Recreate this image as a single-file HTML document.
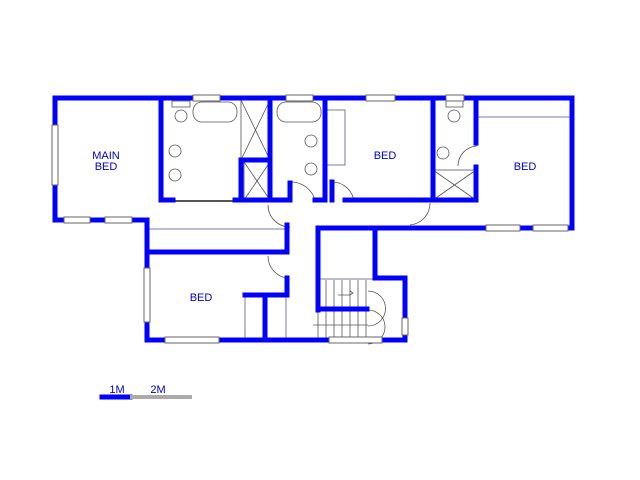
<!DOCTYPE html>
<html><head><meta charset="utf-8"><style>html,body{margin:0;padding:0;background:#fff}svg{display:block}</style></head>
<body>
<svg width="640" height="480" viewBox="0 0 640 480" xmlns="http://www.w3.org/2000/svg" font-family="Liberation Sans, sans-serif">
<g stroke="#7777aa" stroke-width="1" fill="none">
<line x1="147" y1="229" x2="287" y2="229"/>
<line x1="245" y1="295" x2="245" y2="340"/>
<line x1="286" y1="295" x2="286" y2="340"/>
<line x1="318" y1="279" x2="375" y2="279"/>
<line x1="477" y1="117" x2="572" y2="117"/>
<polyline points="327,110 345,110 345,165 327,165"/>
<line x1="173" y1="201" x2="235" y2="201" stroke="#555" stroke-width="2"/>
</g>
<g stroke="#555" stroke-width="0.8" fill="none">
<path d="M326,310 h42 a17,17 0 0 1 0,34"/>
<path d="M368,291 a17,17 0 0 1 0,35"/>
<line x1="318" y1="280" x2="318" y2="340"/><line x1="326" y1="280" x2="326" y2="340"/><line x1="334" y1="280" x2="334" y2="340"/><line x1="342" y1="280" x2="342" y2="340"/><line x1="350" y1="280" x2="350" y2="340"/><line x1="358" y1="280" x2="358" y2="340"/><line x1="366" y1="280" x2="366" y2="340"/>
<line x1="313" y1="325" x2="368" y2="325"/>
<path d="M338,295 h12 l3,-2 l-3,-2"/>
<rect x="241" y="100" width="29" height="60"/><line x1="241" y1="100" x2="270" y2="160"/><line x1="270" y1="100" x2="241" y2="160"/>
<rect x="244" y="162" width="26" height="38"/><line x1="244" y1="162" x2="270" y2="200"/><line x1="270" y1="162" x2="244" y2="200"/>
<rect x="433" y="170" width="43" height="30"/><line x1="433" y1="170" x2="476" y2="200"/><line x1="476" y1="170" x2="433" y2="200"/>
<rect x="193" y="102" width="44" height="20" rx="9"/><rect x="277" y="102" width="44" height="20" rx="9"/>
<circle cx="181" cy="116" r="6"/><rect x="172" y="101" width="18" height="6"/>
<circle cx="454" cy="116" r="6"/><rect x="446" y="101" width="17" height="6"/>
<circle cx="311" cy="141" r="6"/><circle cx="311" cy="169" r="6"/><circle cx="175" cy="151" r="6"/><circle cx="175" cy="175" r="6"/><circle cx="443" cy="153" r="6"/>
<path d="M290,182 a25,25 0 0 1 25,18"/><path d="M268,205 a22,22 0 0 0 22,22"/>
<path d="M332,182 a22,22 0 0 1 22,20"/><path d="M430,203 a22,22 0 0 1 -20,22"/>
<path d="M458,166 a20,20 0 0 1 19,-20"/><path d="M268,256 a22,22 0 0 0 19,22"/>
</g>
<g stroke="#0000ff" stroke-width="5" fill="none" stroke-linecap="square">
<polyline points="55,98 572,98 572,228 375,228 375,278 405,278 405,340 147,340 147,220 55,220 55,98"/>
<polyline points="161,98 161,200 173,200"/>
<polyline points="235,200 290,200 290,183"/>
<polyline points="241,200 241,160 270,160"/>
<line x1="270" y1="98" x2="270" y2="200"/>
<polyline points="315,200 325,200 325,98"/>
<polyline points="345,200 433,200 433,98"/>
<polyline points="476,98 476,143"/><polyline points="476,167 476,200 433,200"/>
<polyline points="147,252 287,252 287,225"/>
<polyline points="287,278 287,295 245,295"/>
<line x1="265" y1="295" x2="265" y2="340"/>
<polyline points="318,310 318,228 375,228"/>
<line x1="318" y1="309" x2="367" y2="309"/>
<line x1="332" y1="182" x2="332" y2="200"/>
<line x1="102" y1="397" x2="130" y2="397"/>
</g>
<line x1="130" y1="397" x2="192" y2="397" stroke="#aaa" stroke-width="4"/>
<g fill="#fff" stroke="#666" stroke-width="1">
<rect x="193" y="95" width="27" height="6"/><rect x="286" y="95" width="27" height="6"/><rect x="366" y="95" width="29" height="6"/><rect x="446" y="95" width="18" height="6"/>
<rect x="52" y="125" width="6" height="60"/><rect x="64" y="217" width="26" height="6"/><rect x="105" y="217" width="27" height="6"/>
<rect x="486" y="225" width="34" height="6"/><rect x="533" y="225" width="35" height="6"/>
<rect x="165" y="337" width="54" height="6"/><rect x="329" y="337" width="53" height="6"/>
<rect x="144" y="268" width="6" height="54"/><rect x="402" y="318" width="6" height="17"/>
</g>
<g fill="#0000cc" font-size="11" text-anchor="middle">
<text x="106" y="159">MAIN</text><text x="106" y="170">BED</text>
<text x="385" y="159">BED</text><text x="525" y="170">BED</text><text x="201" y="301">BED</text>
<text x="117" y="393">1M</text><text x="158" y="393">2M</text>
</g>
</svg>
</body></html>
